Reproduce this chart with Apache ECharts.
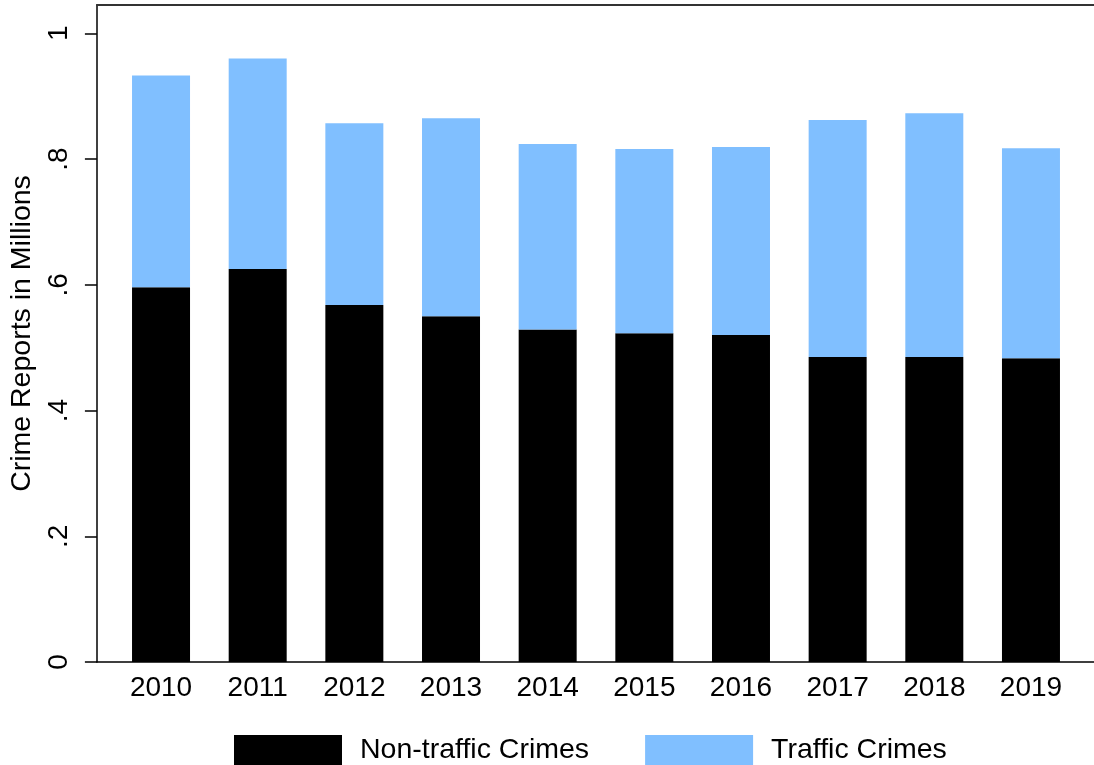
<!DOCTYPE html>
<html>
<head>
<meta charset="utf-8">
<script src="https://cdn.jsdelivr.net/npm/echarts@6/dist/echarts.min.js"></script>
<style>
  html, body { margin: 0; padding: 0; background: #fff; }
  #chart { width: 1094px; height: 765px; }
</style>
</head>
<body>
<div id="chart"></div>
<script>
// crime reports per year, millions
const years = ['2010', '2011', '2012', '2013', '2014', '2015', '2016', '2017', '2018', '2019'];
const nonTraffic = [0.596, 0.625, 0.568, 0.550, 0.529, 0.523, 0.520, 0.485, 0.485, 0.483];
const traffic = [0.337, 0.335, 0.289, 0.315, 0.295, 0.293, 0.299, 0.377, 0.388, 0.334];
const yTicks = [0, 0.2, 0.4, 0.6, 0.8, 1];

const chart = echarts.init(document.getElementById('chart'));
const font = 'Liberation Sans, Arial, sans-serif';
const yMax = 1.045;

function fmt(v) {
  if (v === 0) return '0';
  return String(+v.toFixed(1)).replace(/^0/, '');
}

const option = {
  backgroundColor: '#ffffff',
  animation: false,
  textStyle: { fontFamily: font },
  // grid 0 holds the bars, grid 1 the frame lines and y axis (wider than the bars)
  grid: [
    { left: 112.7, right: 14.7, top: 5, bottom: 103 },
    { left: 92, right: 0, top: 5, bottom: 103 }
  ],
  legend: {
    left: 229,
    top: 730,
    itemWidth: 108,
    itemHeight: 30,
    itemGap: 56,
    icon: 'rect',
    textStyle: { fontSize: 28.5, color: '#000', fontFamily: font, padding: [0, 12, 0, 13] },
    data: ['Non-traffic Crimes', 'Traffic Crimes']
  },
  xAxis: [{
    type: 'category',
    gridIndex: 0,
    data: years,
    axisLine: { show: false },
    axisTick: { show: false },
    axisLabel: { fontSize: 28, color: '#000', margin: 12 }
  }, {
    type: 'value',
    gridIndex: 1,
    min: 0, max: 1,
    splitLine: { show: false },
    axisLine: { show: true, lineStyle: { color: '#000', width: 1.5 } },
    axisTick: { show: false },
    axisLabel: { show: false }
  }, {
    type: 'value',
    gridIndex: 1,
    position: 'top',
    min: 0, max: 1,
    splitLine: { show: false },
    axisLine: { show: true, onZero: false, lineStyle: { color: '#333', width: 2 } },
    axisTick: { show: false },
    axisLabel: { show: false }
  }],
  yAxis: [{
    type: 'value',
    gridIndex: 0,
    min: 0,
    max: yMax,
    show: false
  }, {
    type: 'value',
    gridIndex: 1,
    min: 0,
    max: yMax,
    name: 'Crime Reports in Millions',
    nameLocation: 'middle',
    nameRotate: 90,
    nameGap: 57,
    nameTextStyle: { fontSize: 28.5, color: '#000', fontFamily: font },
    splitLine: { show: false },
    axisLine: { show: true, lineStyle: { color: '#000', width: 1.5 } },
    axisTick: { show: true, length: 12, customValues: yTicks, lineStyle: { color: '#000', width: 1.5 } },
    axisLabel: {
      customValues: yTicks,
      rotate: 90,
      fontSize: 28, color: '#000', margin: 24,
      formatter: fmt
    }
  }],
  series: [{
    name: 'Non-traffic Crimes',
    type: 'bar',
    stack: 'total',
    barWidth: 58,
    xAxisIndex: 0,
    yAxisIndex: 0,
    itemStyle: { color: '#000000' },
    data: nonTraffic
  }, {
    name: 'Traffic Crimes',
    type: 'bar',
    stack: 'total',
    barWidth: 58,
    xAxisIndex: 0,
    yAxisIndex: 0,
    itemStyle: { color: '#80bfff' },
    data: traffic
  }]
};

chart.setOption(option);
</script>
</body>
</html>
